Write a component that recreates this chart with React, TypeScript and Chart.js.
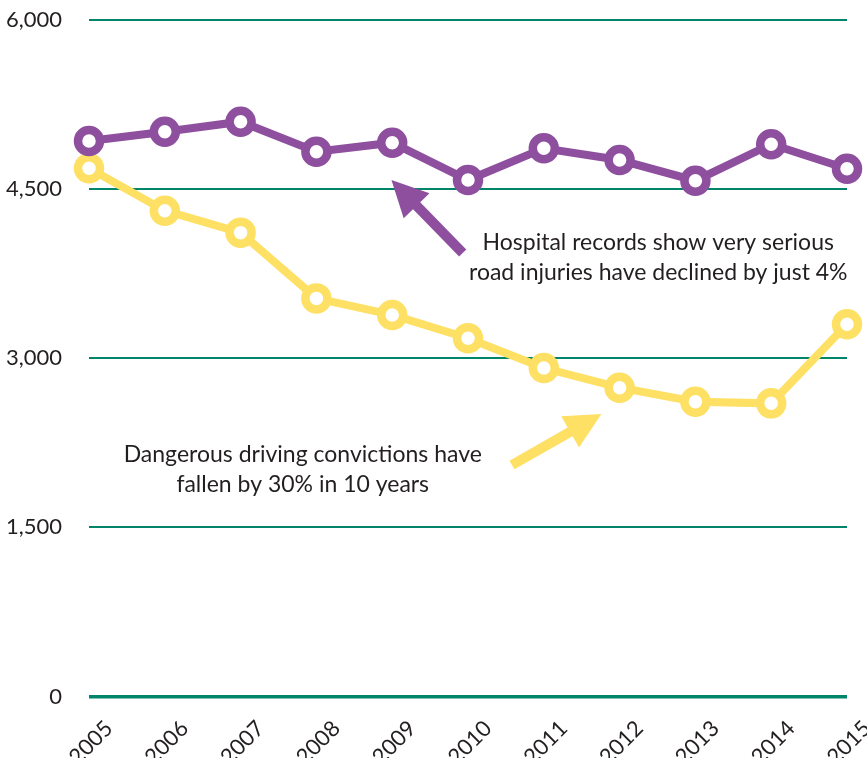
import React, { useEffect, useRef } from "react";
import { Chart, registerables } from "chart.js";

Chart.register(...registerables);

const years = ["2005", "2006", "2007", "2008", "2009", "2010", "2011", "2012", "2013", "2014", "2015"];
const hospitalInjuries = [4927, 5009, 5098, 4832, 4912, 4581, 4862, 4758, 4575, 4898, 4681];
const drivingConvictions = [4685, 4309, 4114, 3531, 3384, 3177, 2913, 2739, 2615, 2600, 3301];
const yTicks = [0, 1500, 3000, 4500, 6000];

const hospitalNote = ["Hospital records show very serious", "road injuries have declined by just 4%"];
const convictionsNote = ["Dangerous driving convictions have", "fallen by 30% in 10 years"];

// arrows: [fromIndex, fromValue, toIndex, toValue]
const hospitalArrow = [4.93, 3933, 3.99, 4581];
const convictionsArrow = [5.58, 2053, 6.76, 2506];
// note anchors: [centerIndex, firstLineValue, secondLineValue]
const hospitalNoteAnchor = [7.51, 4022, 3756];
const convictionsNoteAnchor = [2.82, 2142, 1876];

const PURPLE = "#8e4f9e";
const YELLOW = "#fde064";
const GREEN = "#00856a";
const TEXT = "#231f20";
const FONT = "Lato, 'Open Sans', sans-serif";

function drawArrow(ctx: CanvasRenderingContext2D, x1: number, y1: number, x2: number, y2: number, color: string) {
  const ang = Math.atan2(y2 - y1, x2 - x1);
  const headLen = 36;
  const headHalf = 18;
  const bx = x2 - Math.cos(ang) * headLen;
  const by = y2 - Math.sin(ang) * headLen;
  ctx.save();
  ctx.strokeStyle = color;
  ctx.fillStyle = color;
  ctx.lineWidth = 10;
  ctx.lineCap = "butt";
  ctx.beginPath();
  ctx.moveTo(x1, y1);
  ctx.lineTo(bx + Math.cos(ang) * 2, by + Math.sin(ang) * 2);
  ctx.stroke();
  ctx.beginPath();
  ctx.moveTo(x2, y2);
  ctx.lineTo(bx + Math.cos(ang + Math.PI / 2) * headHalf, by + Math.sin(ang + Math.PI / 2) * headHalf);
  ctx.lineTo(bx + Math.cos(ang - Math.PI / 2) * headHalf, by + Math.sin(ang - Math.PI / 2) * headHalf);
  ctx.closePath();
  ctx.fill();
  ctx.restore();
}

const annotationPlugin = {
  id: "notes",
  afterDatasetsDraw(chart: any) {
    const { ctx, scales } = chart;
    const xs = scales.x;
    const ys = scales.y;
    drawArrow(ctx, xs.getPixelForValue(hospitalArrow[0]), ys.getPixelForValue(hospitalArrow[1]),
      xs.getPixelForValue(hospitalArrow[2]), ys.getPixelForValue(hospitalArrow[3]), PURPLE);
    drawArrow(ctx, xs.getPixelForValue(convictionsArrow[0]), ys.getPixelForValue(convictionsArrow[1]),
      xs.getPixelForValue(convictionsArrow[2]), ys.getPixelForValue(convictionsArrow[3]), YELLOW);
    ctx.save();
    ctx.fillStyle = TEXT;
    ctx.font = `23px ${FONT}`;
    ctx.textAlign = "center";
    ctx.textBaseline = "middle";
    const hx = xs.getPixelForValue(hospitalNoteAnchor[0]);
    ctx.fillText(hospitalNote[0], hx, ys.getPixelForValue(hospitalNoteAnchor[1]));
    ctx.fillText(hospitalNote[1], hx, ys.getPixelForValue(hospitalNoteAnchor[2]));
    const cx = xs.getPixelForValue(convictionsNoteAnchor[0]);
    ctx.fillText(convictionsNote[0], cx, ys.getPixelForValue(convictionsNoteAnchor[1]));
    ctx.fillText(convictionsNote[1], cx, ys.getPixelForValue(convictionsNoteAnchor[2]));
    ctx.restore();
  },
};

export default function App() {
  const ref = useRef<HTMLCanvasElement | null>(null);
  useEffect(() => {
    document.body.style.margin = "0";
    const canvas = ref.current;
    if (!canvas) return;
    const chart = new Chart(canvas, {
      type: "line",
      data: {
        labels: years,
        datasets: [
          {
            label: "Very serious road injuries (hospital records)",
            data: hospitalInjuries,
            borderColor: PURPLE,
            borderWidth: 8,
            pointRadius: 11,
            pointBorderWidth: 8.5,
            pointBackgroundColor: "#ffffff",
            pointBorderColor: PURPLE,
            tension: 0,
            clip: false as any,
          },
          {
            label: "Dangerous driving convictions",
            data: drivingConvictions,
            borderColor: YELLOW,
            borderWidth: 8,
            pointRadius: 11,
            pointBorderWidth: 8.5,
            pointBackgroundColor: "#ffffff",
            pointBorderColor: YELLOW,
            tension: 0,
            clip: false as any,
          },
        ],
      },
      options: {
        animation: false,
        responsive: false,
        layout: { padding: { top: 20, right: 20, left: 0, bottom: 0 } },
        plugins: { legend: { display: false }, tooltip: { enabled: false } },
        scales: {
          x: {
            type: "category",
            offset: false,
            grid: { display: false, drawTicks: false },
            border: { display: false },
            ticks: {
              autoSkip: false,
              minRotation: 45,
              maxRotation: 45,
              padding: 19,
              labelOffset: 20,
              color: TEXT,
              font: { family: FONT, size: 22 },
            },
            afterFit: (s: any) => {
              s.height = 61.5;
              s.paddingLeft = 0;
              s.paddingRight = 0;
              s.paddingTop = 0;
              s.paddingBottom = 0;
            },
          },
          y: {
            min: 0,
            max: 6000,
            afterBuildTicks: (s: any) => {
              s.ticks = yTicks.map((v) => ({ value: v }));
            },
            grid: {
              color: GREEN,
              lineWidth: (c: any) => (c.tick && c.tick.value === 0 ? 3.5 : 2),
              drawTicks: false,
            },
            border: { display: false },
            ticks: {
              padding: 27,
              color: TEXT,
              font: { family: FONT, size: 22 },
              callback: (v: any) => Number(v).toLocaleString("en-US"),
            },
            afterFit: (s: any) => {
              s.width = 89;
              s.paddingLeft = 0;
              s.paddingRight = 0;
              s.paddingTop = 0;
              s.paddingBottom = 0;
            },
          },
        },
      },
      plugins: [annotationPlugin],
    });
    return () => chart.destroy();
  }, []);
  return (
    <div style={{ width: 867, height: 758 }}>
      <canvas ref={ref} width={867} height={758} style={{ display: "block" }} />
    </div>
  );
}
